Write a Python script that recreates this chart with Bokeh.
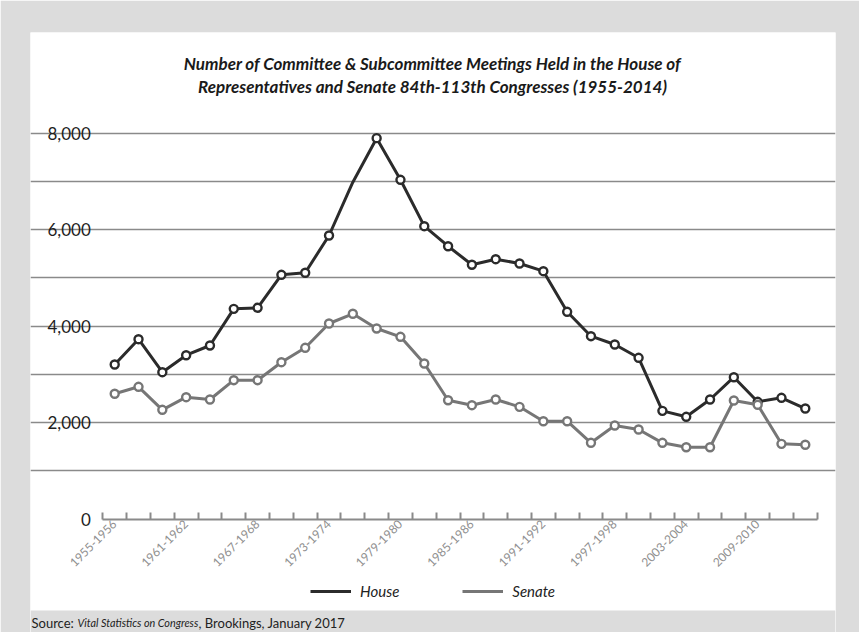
import math
from bokeh.plotting import figure
from bokeh.models import (Range1d, FixedTicker, Legend, LegendItem, Label, BoxAnnotation,
                          ColumnDataSource, NumeralTickFormatter)
from bokeh.embed import file_html
from bokeh.resources import INLINE

# ---------------- data ----------------
congresses = ["1955-1956", "1957-1958", "1959-1960", "1961-1962", "1963-1964", "1965-1966",
              "1967-1968", "1969-1970", "1971-1972", "1973-1974", "1975-1976", "1977-1978",
              "1979-1980", "1981-1982", "1983-1984", "1985-1986", "1987-1988", "1989-1990",
              "1991-1992", "1993-1994", "1995-1996", "1997-1998", "1999-2000", "2001-2002",
              "2003-2004", "2005-2006", "2007-2008", "2009-2010", "2011-2012", "2013-2014"]
house = [3206, 3731, 3047, 3399, 3600, 4360, 4381, 5065, 5107, 5880, 6984, 7897, 7034, 6073,
         5658, 5273, 5389, 5300, 5140, 4298, 3793, 3621, 3345, 2246, 2122, 2481, 2943, 2433,
         2516, 2294]
senate = [2599, 2744, 2267, 2529, 2481, 2881, 2881, 3254, 3552, 4056, 4257, 3952, 3780, 3227,
          2466, 2363, 2481, 2329, 2031, 2031, 1583, 1942, 1859, 1583, 1492, 1492, 2460, 2371,
          1562, 1542]
house_unmarked = [10]          # the original shows no marker at this point
label_every = 3
y_label_ticks = [0, 2000, 4000, 6000, 8000]
y_grid_ticks = [1000, 2000, 3000, 4000, 5000, 6000, 7000, 8000]
y_top = 8000

title_lines = ["Number of Committee & Subcommittee Meetings Held in the House of",
               "Representatives and Senate 84th-113th Congresses (1955-2014)"]
source_parts = ["Source:", "Vital Statistics on Congress", ", Brookings, January 2017"]

# ---------------- layout (pixels) ----------------
W, H = 859, 632
FL, FR, FT, FB = 30, 835, 32, 632          # frame = white panel (+ bottom source strip)
PL, PR, PT, PB = 102.3, 816.7, 132.7, 518.7  # plotting area edges
n = len(congresses)
cw = (PR - PL) / n
upx = (PB - PT) / y_top

def dx(px):
    return -0.5 + (px - PL) / cw

def dy(py):
    return (PB - py) / upx

HOUSE_C = "#2b2b2b"
SENATE_C = "#767676"
GRID_C = "#8a8a8a"
BG_C = "#dcdcdc"
FONT = "Lato"

p = figure(width=W, height=H, x_range=Range1d(dx(FL), dx(FR)), y_range=Range1d(dy(FB), dy(FT)),
           output_backend="svg", toolbar_location=None,
           min_border_left=FL, min_border_right=W - FR, min_border_top=FT, min_border_bottom=H - FB,
           border_fill_color=BG_C, background_fill_color="white", outline_line_color=None)

# grey strip at the bottom carrying the source line
p.add_layout(BoxAnnotation(top=dy(610), fill_color=BG_C, fill_alpha=1, line_color=None,
                           level="underlay"))

# y axis (drawn at the left edge of the plotting area)
ya = p.yaxis[0]
ya.fixed_location = -0.5
ya.ticker = FixedTicker(ticks=y_label_ticks)
ya.formatter = NumeralTickFormatter(format="0,0")
ya.axis_line_color = None
ya.major_tick_line_color = None
ya.minor_tick_line_color = None
ya.major_label_standoff = 6
ya.major_label_text_font = FONT
ya.major_label_text_font_size = "17px"
ya.major_label_text_color = "#1e1e1e"

p.ygrid.ticker = FixedTicker(ticks=y_grid_ticks)
p.ygrid.bounds = (-0.5, n - 0.5)
p.ygrid.grid_line_color = GRID_C
p.ygrid.grid_line_width = 1.6
p.xgrid.visible = False

# x axis: labels on every third congress, small ticks between congresses
shown = list(range(0, n, label_every))
xa = p.xaxis[0]
xa.fixed_location = 0
xa.bounds = (-0.5, n - 0.5)
xa.ticker = FixedTicker(ticks=shown, minor_ticks=[i - 0.5 for i in range(n + 1)])
xa.major_label_overrides = {i: congresses[i] for i in shown}
xa.major_label_orientation = math.pi / 4
xa.axis_line_color = GRID_C
xa.axis_line_width = 2.2
xa.major_tick_line_color = None
xa.minor_tick_line_color = GRID_C
xa.minor_tick_line_width = 2
xa.minor_tick_in = 7
xa.minor_tick_out = 0
xa.major_tick_in = 0
xa.major_tick_out = 0
xa.major_label_standoff = 3
xa.major_label_text_font = FONT
xa.major_label_text_font_size = "12px"
xa.major_label_text_color = "#8f8f8f"

# series
idx = list(range(n))
src = ColumnDataSource(dict(x=idx, house=house, senate=senate))
hm = [i for i in idx if i not in house_unmarked]
hsrc = ColumnDataSource(dict(x=hm, y=[house[i] for i in hm]))

h_line = p.line("x", "house", source=src, line_color=HOUSE_C, line_width=3)
p.scatter("x", "y", source=hsrc, size=8, fill_color="white", line_color=HOUSE_C, line_width=2.4)
s_line = p.line("x", "senate", source=src, line_color=SENATE_C, line_width=3)
p.scatter("x", "senate", source=src, size=8, fill_color="white", line_color=SENATE_C, line_width=2.4)

# legend (line-only swatches)
legend = Legend(items=[LegendItem(label="House", renderers=[h_line]),
                       LegendItem(label="Senate", renderers=[s_line])],
                orientation="horizontal", location=(310 - FL, FB - 601),
                glyph_width=41, glyph_height=20, label_standoff=9, spacing=63,
                padding=0, margin=0, border_line_color=None, background_fill_alpha=0,
                label_text_font=FONT, label_text_font_style="italic",
                label_text_font_size="15px", label_text_color="#222222")
p.add_layout(legend, "center")

# title
for line, py in zip(title_lines, [62.5, 85.5]):
    p.add_layout(Label(x=dx(432), y=dy(py), text=line, text_align="center",
                       text_baseline="middle", text_font=FONT, text_font_style="bold italic",
                       text_font_size="17px", text_color="#1a1a1a"))

# source line
for part, px, style, size in zip(source_parts, [31, 77, 198], ["normal", "italic", "normal"],
                                 ["13px", "10.8px", "13px"]):
    p.add_layout(Label(x=dx(px), y=dy(622), text=part, text_align="left",
                       text_baseline="middle", text_font=FONT, text_font_style=style,
                       text_font_size=size, text_color="#222222"))

open("out.html", "w").write(file_html(p, INLINE))
